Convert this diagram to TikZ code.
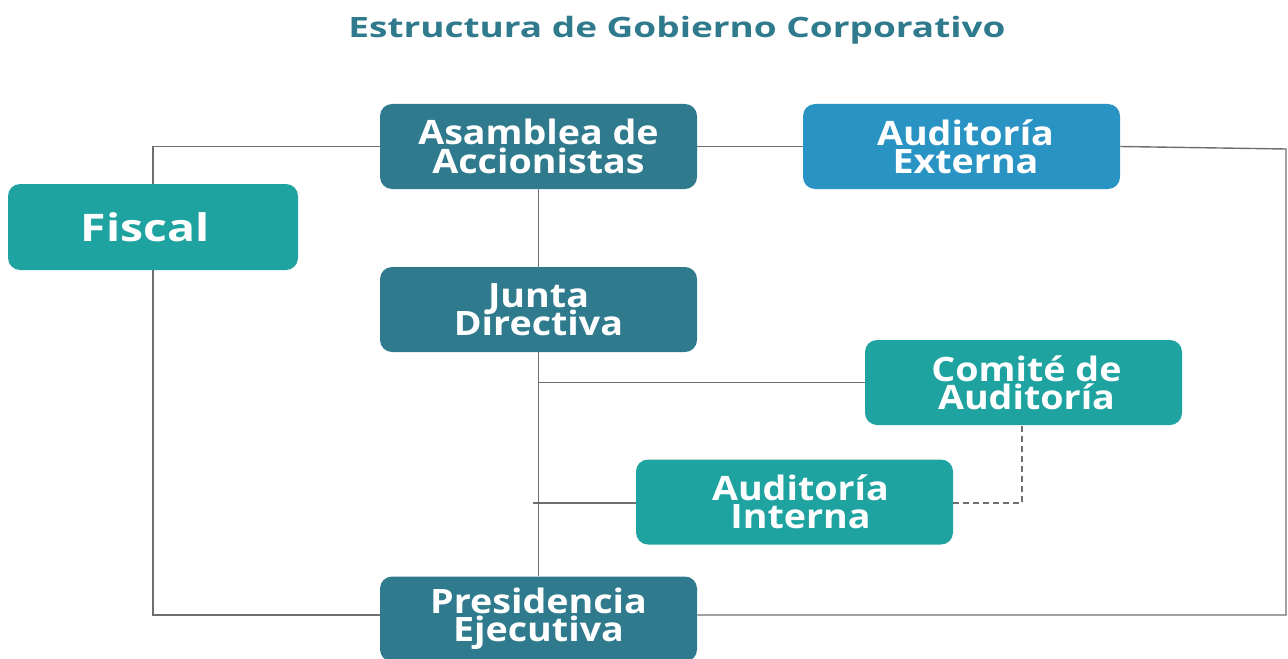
\documentclass[tikz,border=0pt]{standalone}
\usepackage{fontspec}
\setmainfont{Open Sans}
\usetikzlibrary{positioning, calc}
\definecolor{darkteal}{HTML}{2F7A8C}
\definecolor{lightblue}{HTML}{2993C4}
\definecolor{teal}{HTML}{1FA3A0}
\definecolor{linegray}{HTML}{6E6E6E}
\setlength{\lineskiplimit}{-20pt}

\begin{document}
\begin{tikzpicture}[
    x=0.5pt, y=-0.5pt,
    % Styles
    block/.style={ % Organisation box
        rectangle,
        rounded corners=6pt,
        minimum width=158.5pt,
        minimum height=42.5pt,
        align=center,
        text=white,
        font=\bfseries\addfontfeatures{FakeStretch=1.12}\fontsize{16.8}{14.2}\selectfont
    },
    link/.style={ % Connector lines
        draw=linegray,
        line width=0.7pt
    },
    dashlink/.style={ % Dashed connector
        link,
        dash pattern=on 3pt off 2pt
    }
]
    \useasboundingbox (0,0) rectangle (1288,658);

    % Title
    \node[text=darkteal, font=\bfseries\addfontfeatures{FakeStretch=1.32}\fontsize{14}{16}\selectfont] (title) at (677,30) {Estructura de Gobierno Corporativo};

    % Organisation boxes
    \node[block, fill=darkteal] (asam) at (538.5,146.5) {Asamblea de\\Accionistas};
    \node[block, fill=lightblue] (ext) at (961.5,146.5) {\hspace{4pt}Auditoría\\\hspace{4pt}Externa};
    \node[block, fill=teal, minimum width=145pt, minimum height=43pt, font=\bfseries\addfontfeatures{FakeStretch=1.22}\fontsize{19}{22}\selectfont] (fiscal) at (153,227) {Fiscal\hspace{8pt}};
    \node[block, fill=darkteal] (junta) at (538.5,309.5) {Junta\\Directiva};
    \node[block, fill=teal] (comite) at (1023.5,382.5) {\hspace{3pt}Comité de\\\hspace{3pt}Auditoría};
    \node[block, fill=teal] (interna) at (794.5,502) {\hspace{6pt}Auditoría\\\hspace{6pt}Interna};
    \node[block, fill=darkteal] (pres) at (538.5,619) {Presidencia\\Ejecutiva};

    % Helper coordinates
    \coordinate (ne) at (1286,149);
    \coordinate (ji) at (533,503);

    % Connectors
    \draw[link] (asam.west) -| (fiscal.north);
    \draw[link] (fiscal.south) |- ([yshift=2pt]pres.west);
    \draw[link] (asam.east) -- (ext.west);
    \draw[link] (ext.east) -- (ne) |- ([yshift=2pt]pres.east);
    \draw[link] (asam.south) -- (junta.north);
    \draw[link] (junta.south) -- (pres.north);
    \draw[link] (junta.south |- comite.west) -- (comite.west);
    \draw[link] ($(ext.south)+(42.5,0)$) -- ($(ext.south)+(42.5,0)$ |- comite.north);
    \draw[link] (ji) -- (ji -| interna.west);
    \draw[dashlink] (ji -| interna.east) -| ($(comite.south)+(-1.5,0)$);
\end{tikzpicture}
\end{document}
